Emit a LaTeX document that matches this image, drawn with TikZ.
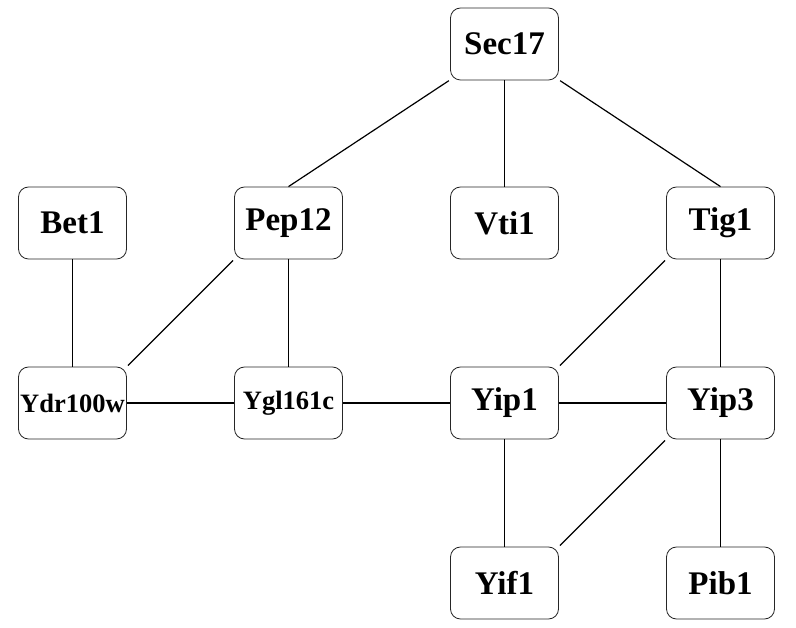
\documentclass[tikz,border=0pt]{standalone}
\usepackage{fontspec}
\setmainfont{Liberation Serif}
\begin{document}
\begin{tikzpicture}[x=1pt,y=-1pt,
  gbox/.style={draw=black!85, line width=0.8pt, rounded corners=10pt, minimum width=108pt, minimum height=72pt, inner sep=0pt, font=\fontsize{33}{33}\selectfont\bfseries},
  smallbox/.style={gbox, font=\fontsize{26.5}{26.5}\selectfont\bfseries},
  edge/.style={line width=1.2pt, black},
  cedge/.style={edge, shorten <=1.5pt, shorten >=1.5pt}]
\useasboundingbox (0,0) rectangle (796,628);
\node[gbox] (Sec17) at (504.5,44) {Sec17};
\node[gbox] (Bet1) at (72.5,223) {Bet1};
\node[gbox] (Pep12) at (288.5,223) {Pep12};
\node[gbox] (Vti1) at (504.5,223) {Vti1};
\node[gbox] (Tig1) at (720.5,223) {Tig1};
\node[smallbox] (Ydr100w) at (72.5,403) {Ydr100w};
\node[smallbox] (Ygl161c) at (288.5,403) {Ygl161c};
\node[gbox] (Yip1) at (504.5,403) {Yip1};
\node[gbox] (Yip3) at (720.5,403) {Yip3};
\node[gbox] (Yif1) at (504.5,583) {Yif1};
\node[gbox] (Pib1) at (720.5,583) {Pib1};
\draw[edge, shorten <=1.5pt] (Sec17) -- (Pep12.north);
\draw[edge] (Sec17) -- (Vti1);
\draw[edge, shorten <=1.5pt] (Sec17) -- (Tig1.north);
\draw[edge] (Bet1) -- (Ydr100w);
\draw[cedge] (Pep12.south west) -- (Ydr100w.north east);
\draw[edge] (Pep12) -- (Ygl161c);
\draw[edge] (Ydr100w) -- (Ygl161c);
\draw[edge] (Ygl161c) -- (Yip1);
\draw[cedge] (Tig1.south west) -- (Yip1.north east);
\draw[edge] (Tig1) -- (Yip3);
\draw[edge] (Yip1) -- (Yip3);
\draw[edge] (Yip1) -- (Yif1);
\draw[cedge] (Yip3.south west) -- (Yif1.north east);
\draw[edge] (Yip3) -- (Pib1);
\end{tikzpicture}
\end{document}
